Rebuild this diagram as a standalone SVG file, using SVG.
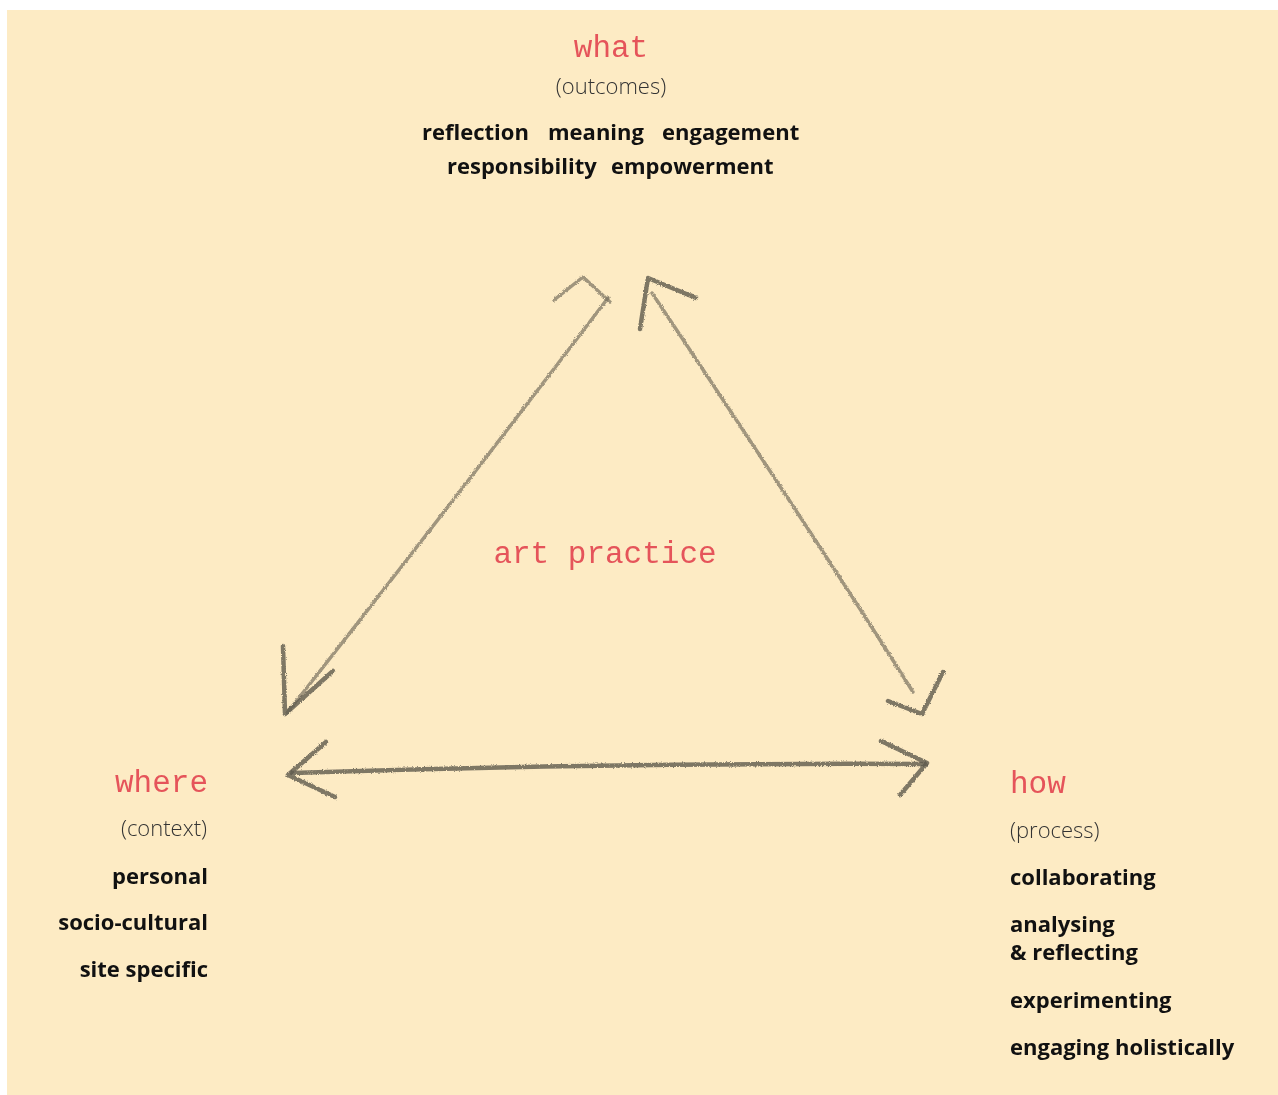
<svg xmlns="http://www.w3.org/2000/svg" width="1278" height="1095" viewBox="0 0 1278 1095">
<defs>
<filter id="pencil" x="-10%" y="-10%" width="120%" height="120%">
<feTurbulence type="fractalNoise" baseFrequency="0.9" numOctaves="2" seed="3" result="n"/>
<feDisplacementMap in="SourceGraphic" in2="n" scale="3" xChannelSelector="R" yChannelSelector="G"/>
</filter>
<style>
.bg{fill:#FDEBC4}
.red{font-family:"Liberation Mono","Courier New",monospace;font-size:31px;fill:#E5545A}
.sub{font-family:"Open Sans","DejaVu Sans",sans-serif;font-size:22px;fill:#333;font-weight:300}
.kw{font-family:"Open Sans","Lato",sans-serif;font-size:22px;font-weight:bold;fill:#111}
.pen{fill:none;stroke:#77705f;stroke-width:3.5;stroke-linecap:round;stroke-linejoin:round;opacity:0.7}
.pen2{fill:none;stroke:#5f5a4e;stroke-width:4.5;stroke-linecap:round;stroke-linejoin:round;opacity:0.8}
</style>
</defs>
<rect class="bg" x="7" y="10" width="1271" height="1085"/>

<g id="connectors" filter="url(#pencil)">
<g id="edge-left">
<path class="pen" d="M287,713 C380,595 500,440 608,298"/>
<path class="pen" d="M554,300 L583,277 L610,302"/>
<path class="pen2" d="M283,646 L285,714 L333,671"/>
</g>
<g id="edge-right">
<path class="pen" d="M652,293 C740,425 830,560 913,692"/>
<path class="pen2" d="M640,329 L648,278 L696,298"/>
<path class="pen2" d="M888,701 L922,714 L943,672"/>
</g>
<g id="edge-bottom">
<path class="pen2" d="M292,773 C500,766 700,763 925,764"/>
<path class="pen2" d="M326,742 L288,775 L335,797"/>
<path class="pen2" d="M881,741 L927,763 L900,795"/>
</g>
</g>

<g id="node-what">
<text class="red" x="611" y="57" text-anchor="middle">what</text>
<text class="sub" x="611" y="94" text-anchor="middle">(outcomes)</text>
<text class="kw" x="422" y="140">reflection</text>
<text class="kw" x="548" y="140">meaning</text>
<text class="kw" x="662" y="140">engagement</text>
<text class="kw" x="447" y="174">responsibility</text>
<text class="kw" x="611" y="174">empowerment</text>
</g>

<g id="node-art">
<text class="red" x="605" y="563" text-anchor="middle">art practice</text>
</g>

<g id="node-where">
<text class="red" x="208" y="792" text-anchor="end">where</text>
<text class="sub" x="207" y="836" text-anchor="end">(context)</text>
<text class="kw" x="208" y="884" text-anchor="end">personal</text>
<text class="kw" x="208" y="930" text-anchor="end">socio-cultural</text>
<text class="kw" x="208" y="977" text-anchor="end">site specific</text>
</g>

<g id="node-how">
<text class="red" x="1010" y="793">how</text>
<text class="sub" x="1010" y="838">(process)</text>
<text class="kw" x="1010" y="885">collaborating</text>
<text class="kw" x="1010" y="932">analysing</text>
<text class="kw" x="1010" y="960">&amp; reflecting</text>
<text class="kw" x="1010" y="1008">experimenting</text>
<text class="kw" x="1010" y="1055">engaging holistically</text>
</g>
</svg>
